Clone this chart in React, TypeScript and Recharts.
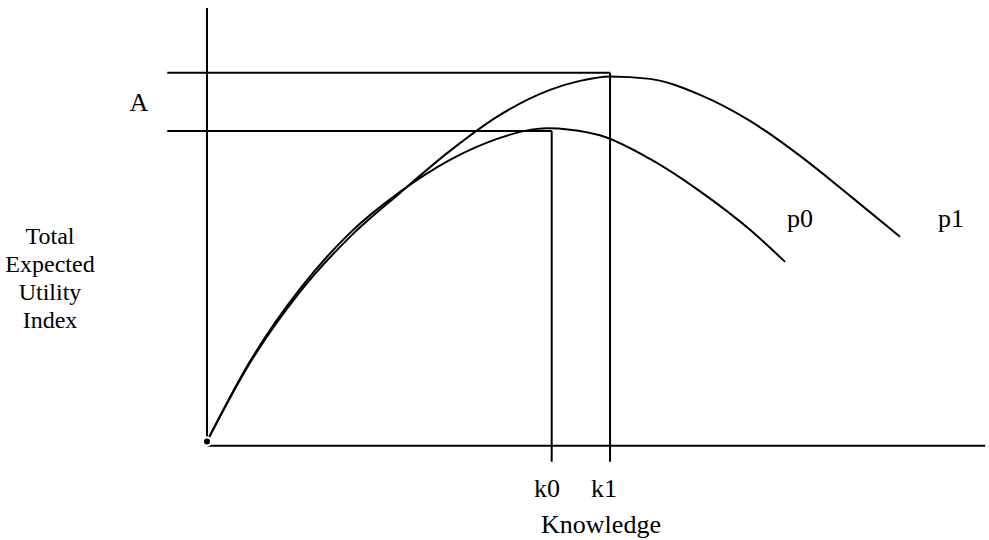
import { ComposedChart, Line, ReferenceLine, XAxis, YAxis } from "recharts";

// knowledge (0..100 along the axis) and utility (0..100 up the axis)
const p0Knowledge = [0, 5.53, 11.95, 18.38, 24.81, 31.23, 37.66, 40.87, 43.7, 46.66, 50.51, 56.94, 63.37, 69.79, 74.29];
const p0Utility = [1.0, 19.29, 35.84, 48.63, 57.99, 65.3, 70.32, 71.92, 72.49, 72.2, 70.9, 65.5, 58.1, 49.32, 42.01];

const p1Knowledge = [0, 5.53, 11.95, 18.38, 24.81, 31.23, 37.66, 44.09, 47.94, 51.8, 56.94, 63.37, 69.79, 76.22, 82.65, 89.07];
const p1Utility = [1.0, 18.95, 35.16, 47.72, 57.76, 67.35, 75.57, 81.28, 83.33, 84.36, 83.79, 80.14, 74.2, 66.21, 57.08, 47.72];

// optimum points
const k0 = 44.3;
const k1 = 51.8;
const u0 = 71.9;
const u1 = 85.2;
const guideStart = -5.1;
const tickDrop = -3.65;

const curveLabels = ["p0", "p1"];
const knowledgeTicks = ["k0", "k1"];
const yTitle = ["Total", "Expected", "Utility", "Index"];

const p0Data = p0Knowledge.map((k, i) => ({ k, u: p0Utility[i] }));
const p1Data = p1Knowledge.map((k, i) => ({ k, u: p1Utility[i] }));

const W = 989;
const H = 540;
const ink = "#000";
const serif = "'Liberation Serif', 'Times New Roman', serif";

export default function App() {
  return (
    <div style={{ position: "absolute", left: 0, top: 0, width: W, height: H, background: "#fff" }}>
      <ComposedChart width={W} height={H} margin={{ top: 0, right: 0, bottom: 0, left: 0 }}>
        <XAxis type="number" dataKey="k" domain={[-26.6, 100.5]} hide allowDataOverflow />
        <YAxis type="number" dataKey="u" domain={[-21.5, 101.8]} hide allowDataOverflow />

        {/* axes */}
        <ReferenceLine segment={[{ x: 0, y: 0 }, { x: 0, y: 100 }]} stroke={ink} strokeWidth={2} ifOverflow="visible" />
        <ReferenceLine segment={[{ x: 0, y: 0 }, { x: 100, y: 0 }]} stroke={ink} strokeWidth={2} ifOverflow="visible" />

        {/* guide lines to the optima */}
        <ReferenceLine segment={[{ x: guideStart, y: u1 }, { x: k1, y: u1 }]} stroke={ink} strokeWidth={2} ifOverflow="visible" />
        <ReferenceLine segment={[{ x: guideStart, y: u0 }, { x: k0, y: u0 }]} stroke={ink} strokeWidth={2} ifOverflow="visible" />
        <ReferenceLine segment={[{ x: k0, y: u0 }, { x: k0, y: tickDrop }]} stroke={ink} strokeWidth={2} ifOverflow="visible" />
        <ReferenceLine segment={[{ x: k1, y: u1 }, { x: k1, y: tickDrop }]} stroke={ink} strokeWidth={2} ifOverflow="visible" />

        <Line data={p0Data} dataKey="u" type="monotone" stroke={ink} strokeWidth={2} dot={false} isAnimationActive={false} />
        <Line data={p1Data} dataKey="u" type="monotone" stroke={ink} strokeWidth={2} dot={false} isAnimationActive={false} />
      </ComposedChart>

      <svg width={W} height={H} style={{ position: "absolute", left: 0, top: 0, pointerEvents: "none" }}>
        <g fontFamily={serif} fontSize={26} fill={ink} textAnchor="middle">
          <text x={139} y={111}>A</text>
          <text x={800} y={227}>{curveLabels[0]}</text>
          <text x={951} y={227}>{curveLabels[1]}</text>
          <text x={547} y={497}>{knowledgeTicks[0]}</text>
          <text x={604} y={497}>{knowledgeTicks[1]}</text>
          <text x={601} y={533}>Knowledge</text>
        </g>
        <g fontFamily={serif} fontSize={24} fill={ink} textAnchor="middle">
          {yTitle.map((t, i) => (
            <text key={t} x={50} y={244 + i * 28}>
              {t}
            </text>
          ))}
        </g>
      </svg>
    </div>
  );
}
